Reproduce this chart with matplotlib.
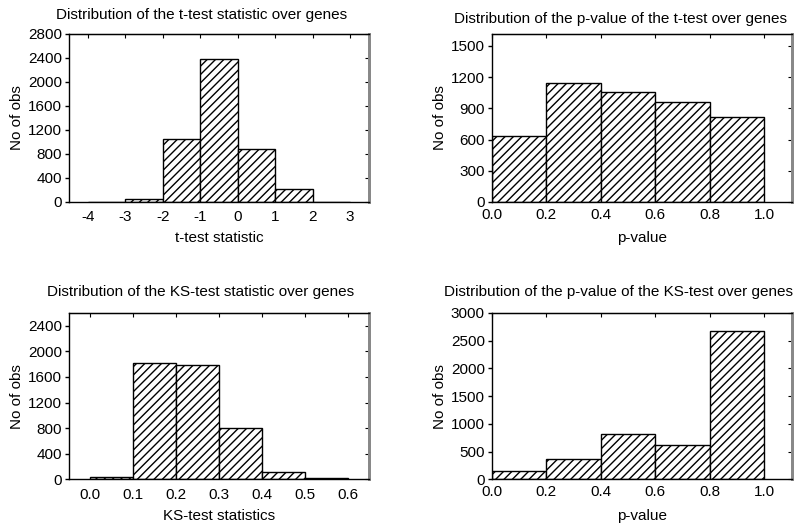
import matplotlib
matplotlib.use("Agg")
import matplotlib.pyplot as plt
import numpy as np

plt.rcParams['font.family'] = ['Liberation Sans', 'DejaVu Sans']
plt.rcParams['hatch.linewidth'] = 1.0

# Panel 1: t-test statistic
t_edges = [-4, -3, -2, -1, 0, 1, 2, 3]
t_counts = [4, 50, 1050, 2380, 880, 210, 6]
# Panel 2: p-value of t-test
tp_edges = [0.0, 0.2, 0.4, 0.6, 0.8, 1.0]
tp_counts = [630, 1140, 1055, 960, 820]
# Panel 3: KS-test statistic
ks_edges = [0.0, 0.1, 0.2, 0.3, 0.4, 0.5, 0.6]
ks_counts = [40, 1820, 1780, 800, 110, 25]
# Panel 4: p-value of KS-test
kp_edges = [0.0, 0.2, 0.4, 0.6, 0.8, 1.0]
kp_counts = [150, 360, 810, 610, 2680]

titles = ["Distribution of the t-test statistic over genes",
          "Distribution of the p-value of the t-test over genes",
          "Distribution of the KS-test statistic over genes",
          "Distribution of the p-value of the KS-test over genes"]
xlabels = ["t-test statistic", "p-value", "KS-test statistics", "p-value"]
ylabel = "No of obs"

FW, FH = 801, 523
fig = plt.figure(figsize=(FW / 100, FH / 100), dpi=100)
W = 0.3745
pos = [(0.0861, 0.6138, W, 0.3212),
       (0.6139, 0.6138, W, 0.3212),
       (0.0861, 0.0836, W, 0.3180),
       (0.6139, 0.0836, W, 0.3180)]
title_xy = [(202, 15.5), (620, 18.5), (201, 292), (618, 292)]

specs = [
    (t_edges, t_counts, (-4.5, 3.5), (0, 2800), np.arange(-4, 4, 1), np.arange(0, 2801, 400), "{:.0f}", 6, 5),
    (tp_edges, tp_counts, (0, 1.1), (0, 1615), np.arange(0, 1.01, 0.2), np.arange(0, 1501, 300), "{:.1f}", 4, 7),
    (ks_edges, ks_counts, (-0.05, 0.65), (0, 2600), np.arange(0, 0.61, 0.1), np.arange(0, 2401, 400), "{:.1f}", 6, 5),
    (kp_edges, kp_counts, (0, 1.1), (0, 3000), np.arange(0, 1.01, 0.2), np.arange(0, 3001, 500), "{:.1f}", 4, 7),
]

FS = 11
for i, (edges, counts, xl, yl, xt, yt, fmt, xpad, lpad) in enumerate(specs):
    ax = fig.add_axes(pos[i])
    edges = np.array(edges, dtype=float)
    widths = np.diff(edges)
    ax.bar(edges[:-1], counts, width=widths, align='edge', facecolor='white',
           edgecolor='black', hatch='////', linewidth=1.0, zorder=2)
    ax.set_xlim(*xl)
    ax.set_ylim(*yl)
    ax.set_xticks(xt)
    ax.set_xticklabels([fmt.format(v) for v in xt])
    ax.set_yticks(yt)
    tx, ty = title_xy[i]
    fig.text(tx / FW, 1 - ty / FH, titles[i], fontsize=FS, ha='center', va='center')
    ax.set_xlabel(xlabels[i], fontsize=FS, labelpad=lpad)
    ax.set_ylabel(ylabel, fontsize=FS, labelpad=3)
    ax.tick_params(axis='both', labelsize=FS, length=3, width=1, direction='out',
                   top=False, right=False)
    ax.tick_params(axis='y', pad=2)
    ax.tick_params(axis='x', length=0, pad=xpad)
    sxa = ax.secondary_xaxis('top')
    sxa.set_xticks(xt)
    sxa.tick_params(direction='in', length=3, labeltop=False)
    sya = ax.secondary_yaxis('right')
    sya.set_yticks(yt)
    sya.tick_params(direction='in', length=3, labelright=False)
    for s in ['left', 'bottom', 'top']:
        ax.spines[s].set_color('black')
        ax.spines[s].set_linewidth(1.0)
    ax.spines['right'].set_color('#888888')
    ax.spines['right'].set_linewidth(2.0)
    for sp in list(sya.spines.values()):
        sp.set_color('#888888')
        sp.set_linewidth(2.0)

fig.savefig("out.png", dpi=100)
